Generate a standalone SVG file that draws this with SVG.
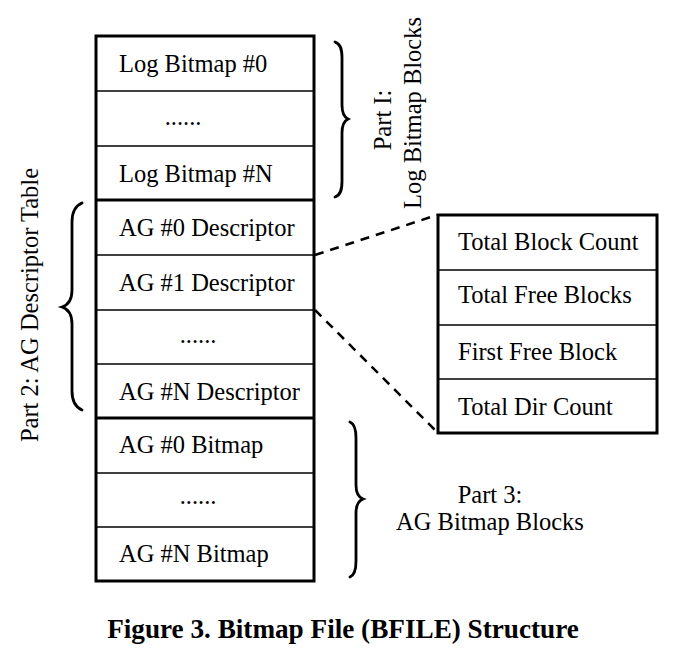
<svg xmlns="http://www.w3.org/2000/svg" width="686" height="672" viewBox="0 0 686 672">
<style>
.t{font-family:"Liberation Serif","Times New Roman",serif;font-size:24.5px;fill:#000}
.c{text-anchor:middle}
.thin{stroke:#000;stroke-width:1.5;fill:none}
.thick{stroke:#000;stroke-width:3;fill:none}
.brace{stroke:#000;stroke-width:2.8;fill:none;stroke-linecap:round}
.dash{stroke:#000;stroke-width:2.5;fill:none;stroke-dasharray:9 7}
</style>
<rect width="686" height="672" fill="#fff"/>
<g id="main-column">
<rect x="96" y="36" width="218" height="545" class="thick"/>
<line x1="96" y1="91" x2="314" y2="91" class="thin"/>
<line x1="96" y1="146" x2="314" y2="146" class="thin"/>
<line x1="96" y1="200" x2="314" y2="200" class="thick"/>
<line x1="96" y1="255" x2="314" y2="255" class="thin"/>
<line x1="96" y1="310" x2="314" y2="310" class="thin"/>
<line x1="96" y1="364" x2="314" y2="364" class="thin"/>
<line x1="96" y1="418" x2="314" y2="418" class="thick"/>
<line x1="96" y1="473" x2="314" y2="473" class="thin"/>
<line x1="96" y1="527" x2="314" y2="527" class="thin"/>
</g>
<g id="log-bitmap-0"><text class="t" x="119" y="72">Log Bitmap #0</text></g>
<g id="log-bitmap-dots"><text class="t c" x="183" y="125">......</text></g>
<g id="log-bitmap-n"><text class="t" x="119" y="182">Log Bitmap #N</text></g>
<g id="ag0-desc"><text class="t" x="119" y="236">AG #0 Descriptor</text></g>
<g id="ag1-desc"><text class="t" x="119" y="291">AG #1 Descriptor</text></g>
<g id="ag-desc-dots"><text class="t c" x="198" y="343">......</text></g>
<g id="agn-desc"><text class="t" x="119" y="400">AG #N Descriptor</text></g>
<g id="ag0-bitmap"><text class="t" x="119" y="453">AG #0 Bitmap</text></g>
<g id="ag-bitmap-dots"><text class="t c" x="198" y="504">......</text></g>
<g id="agn-bitmap"><text class="t" x="119" y="562">AG #N Bitmap</text></g>
<g id="descriptor-detail">
<rect x="438" y="215" width="219" height="218" class="thick"/>
<line x1="438" y1="270" x2="657" y2="270" class="thin"/>
<line x1="438" y1="325" x2="657" y2="325" class="thin"/>
<line x1="438" y1="379" x2="657" y2="379" class="thin"/>
<text class="t" x="458" y="250">Total Block Count</text>
<text class="t" x="458" y="303">Total Free Blocks</text>
<text class="t" x="458" y="360">First Free Block</text>
<text class="t" x="458" y="415">Total Dir Count</text>
</g>
<g id="connectors">
<line x1="315" y1="255" x2="437" y2="215" class="dash"/>
<line x1="315" y1="310" x2="437" y2="432" class="dash"/>
</g>
<g id="part1">
<path class="brace" d="M335,42 C341,44 342,50 342,58 L342,105 C342,113 344,117 348,119 C344,121 342,125 342,133 L342,181 C342,189 341,195 335,197"/>
<text class="t c" transform="translate(391,120) rotate(-90)">Part I:</text>
<text class="t c" transform="translate(421,113) rotate(-90)">Log Bitmap Blocks</text>
</g>
<g id="part2">
<path class="brace" d="M82,203 C75,206 72,212 72,222 L72,290 C72,300 68,305 62,307 C68,309 72,314 72,324 L72,391 C72,401 75,407 82,410"/>
<text class="t c" transform="translate(38,305) rotate(-90)">Part 2: AG Descriptor Table</text>
</g>
<g id="part3">
<path class="brace" d="M350,422 C355,424 356,430 356,438 L356,485 C356,493 358,497 363,499 C358,501 356,505 356,513 L356,561 C356,569 355,575 350,577"/>
<text class="t c" x="490" y="503">Part 3:</text>
<text class="t c" x="490" y="530">AG Bitmap Blocks</text>
</g>
<g id="caption">
<text x="343" y="638" text-anchor="middle" style="font-family:'Liberation Serif','Times New Roman',serif;font-size:27.2px;font-weight:bold;fill:#000">Figure 3. Bitmap File (BFILE) Structure</text>
</g>
</svg>
